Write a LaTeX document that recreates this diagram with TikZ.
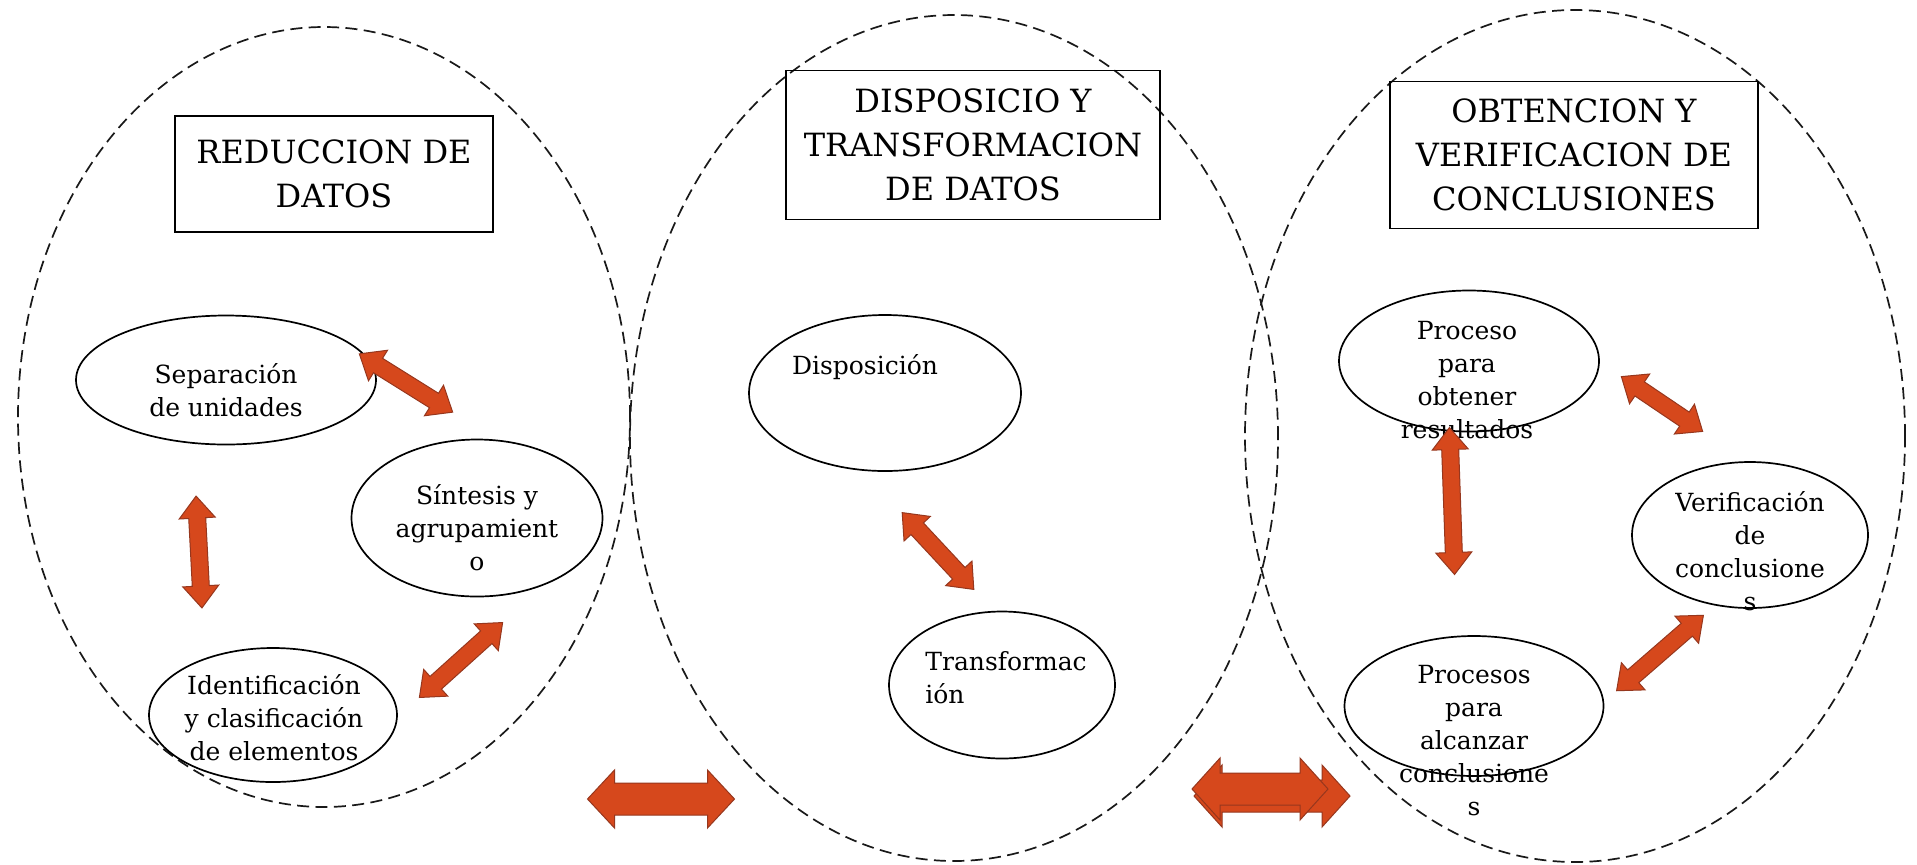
\documentclass[tikz,border=0pt]{standalone}
\usepackage{fontspec}
\setmainfont{DejaVu Serif}
\usetikzlibrary{shapes.geometric}
\definecolor{arrowfill}{RGB}{214,72,28}
\definecolor{arrowedge}{RGB}{150,55,30}
\tikzset{
  bigcircle/.style={ellipse, draw=black!90, dash pattern=on 6pt off 3.2pt, line width=0.85pt, inner sep=0pt},
  smallell/.style={ellipse, draw=black, line width=0.85pt, inner sep=0pt},
  titlebox/.style={rectangle, draw=black, line width=0.9pt, inner sep=0pt, align=center, font=\fontsize{16}{22}\selectfont},
  lbl/.style={inner sep=0pt, align=center, font=\fontsize{12.5}{16.5}\selectfont},
  arrowshape/.style={fill=arrowfill, draw=arrowedge, line width=0.5pt, line join=miter},
  pics/darrow/.style args={#1/#2/#3/#4}{code={
    \filldraw[arrowshape] (-#1/2,0) -- (-#1/2+#4,#3/2) -- (-#1/2+#4,#2/2) -- (#1/2-#4,#2/2) -- (#1/2-#4,#3/2) -- (#1/2,0) -- (#1/2-#4,-#3/2) -- (#1/2-#4,-#2/2) -- (-#1/2+#4,-#2/2) -- (-#1/2+#4,-#3/2) -- cycle;
  }}
}
\begin{document}
\begin{tikzpicture}[x=0.5pt, y=-0.5pt]
\fill[white] (0,0) rectangle (1917,864);
\useasboundingbox (0,0) rectangle (1917,864);

% big dashed ellipses
\node[bigcircle, minimum width=306pt, minimum height=390pt] (big1) at (324,417) {};
\node[bigcircle, minimum width=324pt, minimum height=423pt] (big2) at (954,438) {};
\node[bigcircle, minimum width=330pt, minimum height=426pt] (big3) at (1575,436) {};

% titles
\node[titlebox, minimum width=159pt, minimum height=58pt] (t1) at (334,174) {REDUCCION DE\\DATOS};
\node[titlebox, minimum width=187pt, minimum height=74.5pt] (t2) at (973,145) {DISPOSICIO Y\\TRANSFORMACION\\DE DATOS};
\node[titlebox, minimum width=184pt, minimum height=73.5pt] (t3) at (1574,155) {OBTENCION Y\\VERIFICACION DE\\CONCLUSIONES};

% small ellipses
\node[smallell, minimum width=150pt, minimum height=64.5pt] (sep) at (226,380) {};
\node[smallell, minimum width=125.5pt, minimum height=78.5pt] (sin) at (477,518) {};
\node[smallell, minimum width=124pt, minimum height=67pt] (ide) at (273,715) {};
\node[smallell, minimum width=136pt, minimum height=78pt] (dis) at (885,393) {};
\node[smallell, minimum width=113pt, minimum height=73.5pt] (tra) at (1002,685) {};
\node[smallell, minimum width=130pt, minimum height=70.5pt] (pro) at (1469,361) {};
\node[smallell, minimum width=118pt, minimum height=73pt] (ver) at (1750,535) {};
\node[smallell, minimum width=129.5pt, minimum height=70pt] (alc) at (1474,706) {};

% texts
\node[lbl] (sep-t) at (226,390) {Separación\\de unidades};
\node[lbl] (sin-t) at (477,528) {Síntesis y\\agrupamient\\o};
\node[lbl] (ide-t) at (274,718) {Identificación\\y clasificación\\de elementos};
\node[lbl] (dis-t) at (865,367) {Disposición};
\node[lbl, align=left, anchor=west] (tra-t) at (925,678) {Transformac\\ión};
\node[lbl] (pro-t) at (1467,380) {Proceso\\para\\obtener\\resultados};
\node[lbl] (ver-t) at (1750,551) {Verificación\\de\\conclusione\\s};
\node[lbl] (alc-t) at (1474,741) {Procesos\\para\\alcanzar\\conclusione\\s};

% double arrows
\pic (a1) [rotate=-32] at (406,383) {darrow=110/17/36/22};
\pic (a2) [rotate=-87] at (199,552) {darrow=112/17/36/22};
\pic (a3) [rotate=42] at (461,660) {darrow=112/17/36/22};
\pic (a4) [rotate=-47] at (938,551) {darrow=105/17/36/22};
\pic (a5) [rotate=-34] at (1662,404) {darrow=98/17/36/22};
\pic (a6) [rotate=-88] at (1452,501) {darrow=147/17/36/22};
\pic (a7) [rotate=41] at (1660,653) {darrow=115/17/36/22};
\pic (a8) at (661,799) {darrow=147/32/58/27};
\pic (a9) at (1272,796) {darrow=156/32/62/28};
\pic (a10) at (1260,789) {darrow=136/32/62/28};
\end{tikzpicture}
\end{document}
